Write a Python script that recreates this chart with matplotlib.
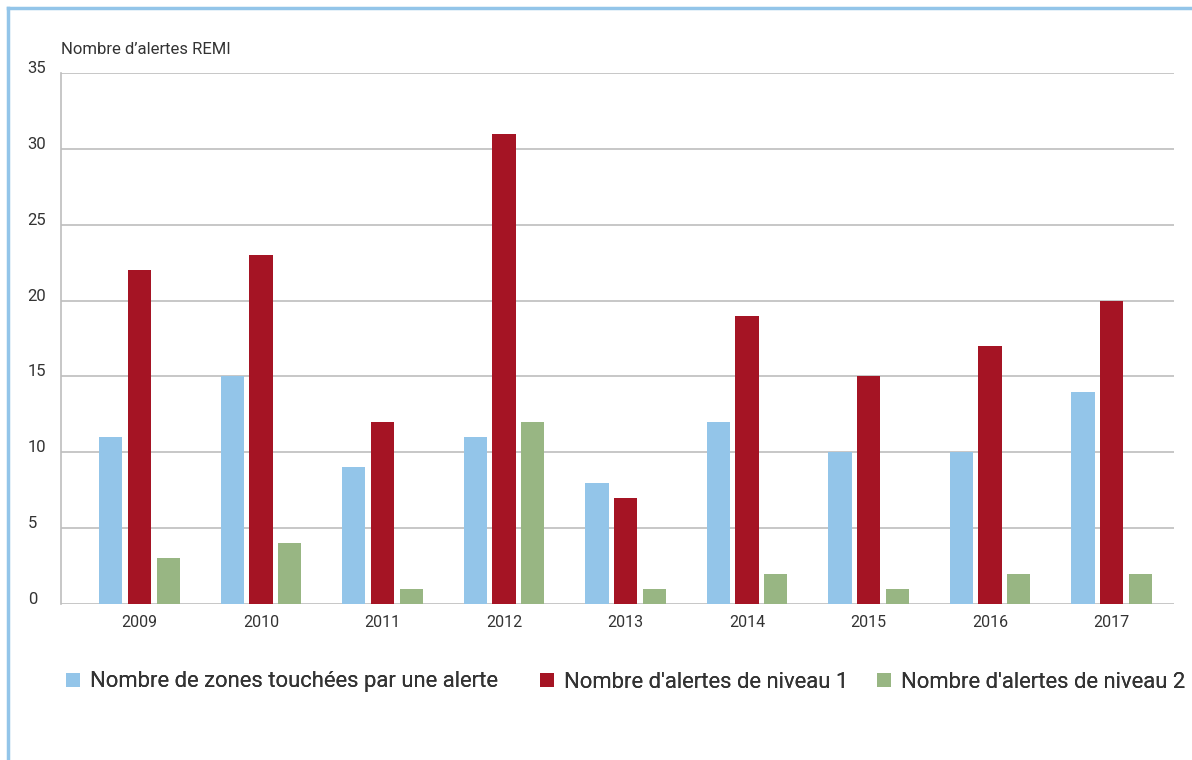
import matplotlib
matplotlib.use('Agg')
import matplotlib.pyplot as plt
from matplotlib.lines import Line2D
from matplotlib.patches import Patch
import numpy as np

plt.rcParams['font.family'] = ['Roboto', 'DejaVu Sans']

years = ['2009', '2010', '2011', '2012', '2013', '2014', '2015', '2016', '2017']
zones = [11, 15, 9, 11, 8, 12, 10, 10, 14]
niveau1 = [22, 23, 12, 31, 7, 19, 15, 17, 20]
niveau2 = [3, 4, 1, 12, 1, 2, 1, 2, 2]

labels = ['Nombre de zones touchées par une alerte',
          "Nombre d'alertes de niveau 1",
          "Nombre d'alertes de niveau 2"]
colors = ['#93C5E9', '#A51424', '#98B683']

fig = plt.figure(figsize=(11.92, 7.6), dpi=100)
ax = fig.add_axes([61 / 1192, 1 - 604 / 760, (1174 - 61) / 1192, (604 - 73) / 760])

x = np.arange(len(years))
w = 0.19
off = 0.235
ax.bar(x - off, zones, w, color=colors[0], zorder=3)
ax.bar(x, niveau1, w, color=colors[1], zorder=3)
ax.bar(x + off, niveau2, w, color=colors[2], zorder=3)

ax.set_xlim(-0.646, 8.514)
ax.set_ylim(0, 35)
ax.set_yticks(range(0, 36, 5))
ax.set_xticks(x)
ax.set_xticklabels(years, fontsize=11.5, color='#333333')
ax.tick_params(length=0)
ax.tick_params(axis='x', pad=8)
ax.set_yticklabels([str(v) for v in range(0, 36, 5)], fontsize=12, color='#333333',
                   va='baseline', ha='left')
ax.tick_params(axis='y', pad=24)

ax.grid(axis='y', color='#BEBEBE', linewidth=1.2, zorder=0)
for s in ['top', 'right', 'bottom']:
    ax.spines[s].set_visible(False)
ax.spines['left'].set_color('#BEBEBE')
ax.spines['left'].set_linewidth(1.2)

fig.text(61 / 1192, 1 - 50 / 760, "Nombre d\u2019alertes REMI", fontsize=12,
         color='#333333', va='center', ha='left')

# one legend per entry so each sits where it does in the original
leg_x = [66, 540, 877]
for lx, c, lab in zip(leg_x, colors, labels):
    leg = fig.legend([Patch(facecolor=c, edgecolor='none')], [lab], loc='center left',
                     bbox_to_anchor=(lx / 1192, 1 - 682 / 760), frameon=False,
                     fontsize=15.8, handlelength=0.63, handleheight=0.63,
                     handletextpad=0.45, borderpad=0, borderaxespad=0,
                     labelcolor='#333333')
    fig.add_artist(leg)

# light blue frame lines
fig.add_artist(Line2D([8 / 1192, 1], [1 - 8 / 760, 1 - 8 / 760], color='#93C5E9',
                      linewidth=2.5, transform=fig.transFigure))
fig.add_artist(Line2D([8 / 1192, 8 / 1192], [0, 1 - 8 / 760], color='#93C5E9',
                      linewidth=2.5, transform=fig.transFigure))

fig.savefig('out.png', dpi=100)
